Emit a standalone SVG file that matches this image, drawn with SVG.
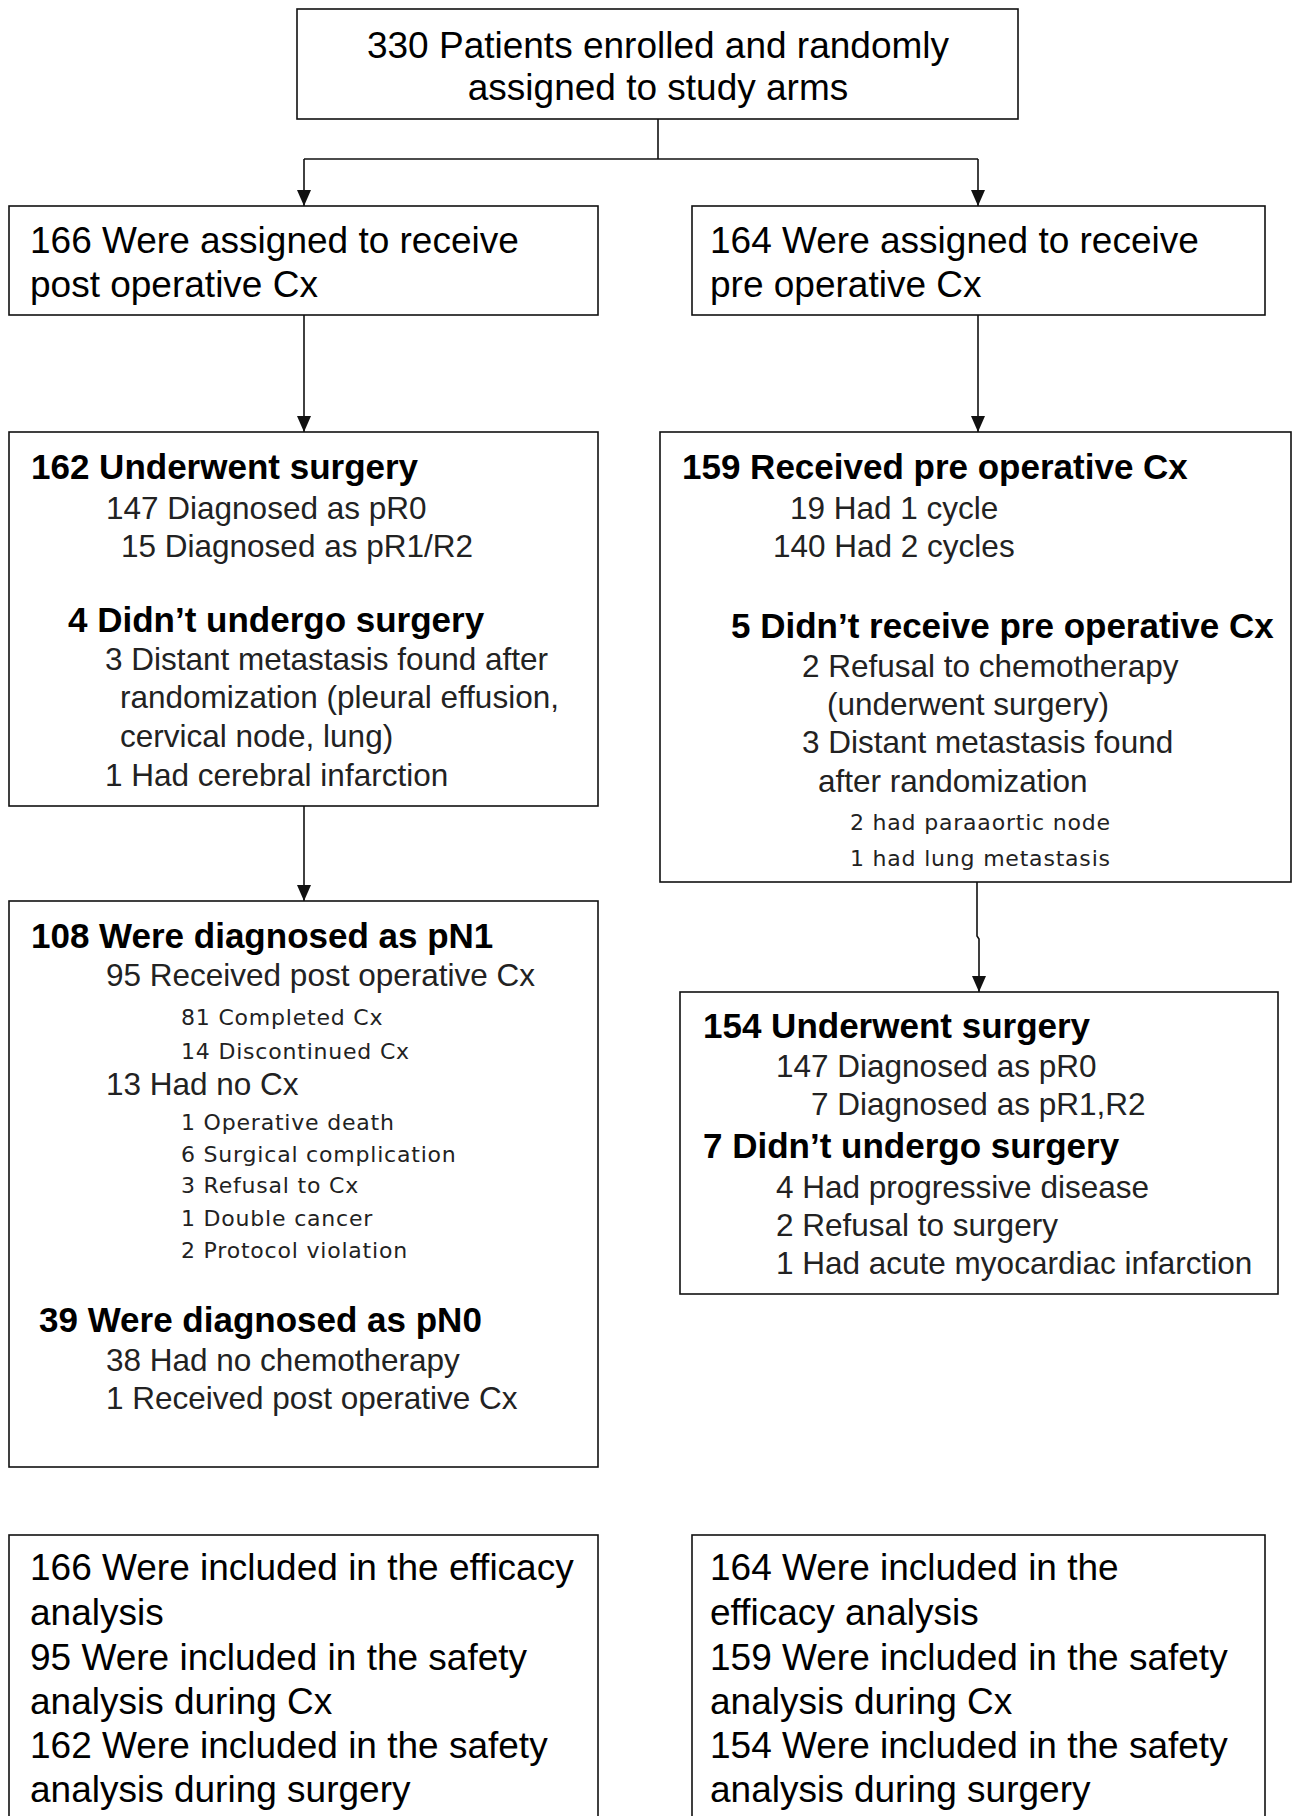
<svg xmlns="http://www.w3.org/2000/svg" width="1293" height="1816" viewBox="0 0 1293 1816">
<style>
.box{fill:#fff;stroke:#111;stroke-width:1.6}
.con{fill:none;stroke:#111;stroke-width:1.6}
.t{font-family:"Liberation Sans",Arial,sans-serif;font-size:37px;fill:#000}
.h{font-family:"Liberation Sans",Arial,sans-serif;font-size:35px;font-weight:bold;fill:#000}
.s{font-family:"Liberation Sans",Arial,sans-serif;font-size:31.5px;fill:#222}
.m{font-family:"DejaVu Sans",Verdana,sans-serif;font-size:22px;letter-spacing:0.8px;fill:#222}
.c{text-anchor:middle}
</style>
<defs>
<marker id="arr" markerUnits="userSpaceOnUse" markerWidth="16" markerHeight="14" refX="16" refY="7" orient="auto">
<path d="M0,0 L16,7 L0,14 Z" fill="#111"/>
</marker>
</defs>
<rect width="1293" height="1816" fill="#fff"/>
<g id="connectors">
<path class="con" d="M658,119 V159"/>
<path class="con" d="M304,159 H978"/>
<path class="con" d="M304,159 V206" marker-end="url(#arr)"/>
<path class="con" d="M978,159 V206" marker-end="url(#arr)"/>
<path class="con" d="M304,315 V432" marker-end="url(#arr)"/>
<path class="con" d="M978,315 V432" marker-end="url(#arr)"/>
<path class="con" d="M304,806 V901" marker-end="url(#arr)"/>
<path class="con" d="M977,882 V936 L979,939 V992" marker-end="url(#arr)"/>
</g>
<g id="enrolled">
<rect class="box" x="297" y="9" width="721" height="110"/>
<text class="t c" x="658" y="58">330 Patients enrolled and randomly</text>
<text class="t c" x="658" y="100">assigned to study arms</text>
</g>
<g id="postop-arm">
<rect class="box" x="9" y="206" width="589" height="109"/>
<text class="t" x="30" y="253">166 Were assigned to receive</text>
<text class="t" x="30" y="297">post operative Cx</text>
</g>
<g id="preop-arm">
<rect class="box" x="692" y="206" width="573" height="109"/>
<text class="t" x="710" y="253">164 Were assigned to receive</text>
<text class="t" x="710" y="297">pre operative Cx</text>
</g>
<g id="postop-surgery">
<rect class="box" x="9" y="432" width="589" height="374"/>
<text class="h" x="31" y="479">162 Underwent surgery</text>
<text class="s" x="106" y="519">147 Diagnosed as pR0</text>
<text class="s" x="121" y="557">15 Diagnosed as pR1/R2</text>
<text class="h" x="68" y="632">4 Didn’t undergo surgery</text>
<text class="s" x="105" y="670">3 Distant metastasis found after</text>
<text class="s" x="120" y="708">randomization (pleural effusion,</text>
<text class="s" x="120" y="747">cervical node, lung)</text>
<text class="s" x="105" y="786">1 Had cerebral infarction</text>
</g>
<g id="preop-chemo">
<rect class="box" x="660" y="432" width="631" height="450"/>
<text class="h" x="682" y="479">159 Received pre operative Cx</text>
<text class="s" x="790" y="519">19 Had 1 cycle</text>
<text class="s" x="773" y="557">140 Had 2 cycles</text>
<text class="h" x="731" y="638">5 Didn’t receive pre operative Cx</text>
<text class="s" x="802" y="677">2 Refusal to chemotherapy</text>
<text class="s" x="827" y="715">(underwent surgery)</text>
<text class="s" x="802" y="753">3 Distant metastasis found</text>
<text class="s" x="818" y="792">after randomization</text>
<text class="m" x="850" y="830">2 had paraaortic node</text>
<text class="m" x="850" y="866">1 had lung metastasis</text>
</g>
<g id="postop-pathology">
<rect class="box" x="9" y="901" width="589" height="566"/>
<text class="h" x="31" y="948">108 Were diagnosed as pN1</text>
<text class="s" x="106" y="986">95 Received post operative Cx</text>
<text class="m" x="181" y="1025">81 Completed Cx</text>
<text class="m" x="181" y="1059">14 Discontinued Cx</text>
<text class="s" x="106" y="1095">13 Had no Cx</text>
<text class="m" x="181" y="1130">1 Operative death</text>
<text class="m" x="181" y="1162">6 Surgical complication</text>
<text class="m" x="181" y="1193">3 Refusal to Cx</text>
<text class="m" x="181" y="1226">1 Double cancer</text>
<text class="m" x="181" y="1258">2 Protocol violation</text>
<text class="h" x="39" y="1332">39 Were diagnosed as pN0</text>
<text class="s" x="106" y="1371">38 Had no chemotherapy</text>
<text class="s" x="106" y="1409">1 Received post operative Cx</text>
</g>
<g id="preop-surgery">
<rect class="box" x="680" y="992" width="598" height="302"/>
<text class="h" x="703" y="1038">154 Underwent surgery</text>
<text class="s" x="776" y="1077">147 Diagnosed as pR0</text>
<text class="s" x="811" y="1115">7 Diagnosed as pR1,R2</text>
<text class="h" x="703" y="1158">7 Didn’t undergo surgery</text>
<text class="s" x="776" y="1198">4 Had progressive disease</text>
<text class="s" x="776" y="1236">2 Refusal to surgery</text>
<text class="s" x="776" y="1274">1 Had acute myocardiac infarction</text>
</g>
<g id="postop-analysis">
<rect class="box" x="9" y="1535" width="589" height="300"/>
<text class="t" x="30" y="1580">166 Were included in the efficacy</text>
<text class="t" x="30" y="1625">analysis</text>
<text class="t" x="30" y="1670">95 Were included in the safety</text>
<text class="t" x="30" y="1714">analysis during Cx</text>
<text class="t" x="30" y="1758">162 Were included in the safety</text>
<text class="t" x="30" y="1802">analysis during surgery</text>
</g>
<g id="preop-analysis">
<rect class="box" x="692" y="1535" width="573" height="300"/>
<text class="t" x="710" y="1580">164 Were included in the</text>
<text class="t" x="710" y="1625">efficacy analysis</text>
<text class="t" x="710" y="1670">159 Were included in the safety</text>
<text class="t" x="710" y="1714">analysis during Cx</text>
<text class="t" x="710" y="1758">154 Were included in the safety</text>
<text class="t" x="710" y="1802">analysis during surgery</text>
</g>
</svg>
